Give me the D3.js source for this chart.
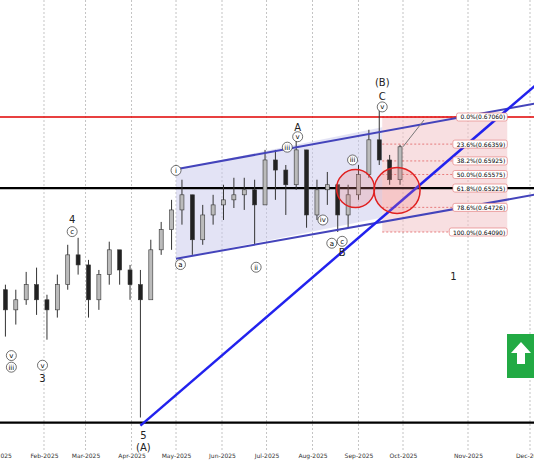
<!DOCTYPE html>
<html><head><meta charset="utf-8">
<script src="https://cdn.jsdelivr.net/npm/d3@7"></script>
<style>body{margin:0;background:#fff}text{font-family:"DejaVu Sans",sans-serif}</style>
</head><body>
<svg id="chart" width="534" height="462"></svg>
<script>
// weekly candles: date, high, low, close (open = previous close)
const dates = ['2025-01-06','2025-01-13','2025-01-20','2025-01-27','2025-02-03','2025-02-10','2025-02-17','2025-02-24',
  '2025-03-03','2025-03-10','2025-03-17','2025-03-24','2025-03-31','2025-04-07','2025-04-14','2025-04-21','2025-04-28',
  '2025-05-05','2025-05-12','2025-05-19','2025-05-26','2025-06-02','2025-06-09','2025-06-16','2025-06-23','2025-06-30',
  '2025-07-07','2025-07-14','2025-07-21','2025-07-28','2025-08-04','2025-08-11','2025-08-18','2025-08-25','2025-09-01',
  '2025-09-08','2025-09-15','2025-09-22','2025-09-29'];
const highs = [0.6273,0.6260,0.6306,0.6317,0.6247,0.6299,0.6376,0.6394,0.6337,0.6311,0.6384,0.6324,0.6324,0.6311,0.6389,0.6435,0.6492,
  0.6544,0.6505,0.6479,0.6505,0.6531,0.6549,0.6549,0.6544,0.6621,0.6621,0.6582,0.6652,0.6621,0.6544,0.6564,0.6531,0.6531,0.6582,
  0.6673,0.6729,0.6608,0.6634];
const lows = [0.6139,0.6170,0.6221,0.6195,0.6131,0.6188,0.6260,0.6299,0.6188,0.6208,0.6273,0.6273,0.6234,0.5930,0.6260,0.6350,0.6363,
  0.6428,0.6350,0.6376,0.6428,0.6440,0.6471,0.6466,0.6376,0.6479,0.6492,0.6453,0.6518,0.6420,0.6440,0.6479,0.6409,0.6420,0.6492,
  0.6549,0.6582,0.6531,0.6531];
const closes = [0.6208,0.6234,0.6273,0.6234,0.6208,0.6273,0.6350,0.6324,0.6234,0.6299,0.6363,0.6311,0.6273,0.6234,0.6363,0.6415,0.6466,
  0.6505,0.6389,0.6453,0.6479,0.6492,0.6505,0.6518,0.6479,0.6595,0.6569,0.6531,0.6621,0.6453,0.6518,0.6531,0.6453,0.6505,0.6557,
  0.6647,0.6595,0.6544,0.6629];
const firstOpen = 0.6260;

const fibPct = ['0.0%','23.6%','38.2%','50.0%','61.8%','78.6%','100.0%'];
const fibVal = [0.67060,0.66359,0.65925,0.65575,0.65225,0.64726,0.64090];
const months = ['2025-01-01','2025-02-01','2025-03-01','2025-04-01','2025-05-01','2025-06-01','2025-07-01','2025-08-01','2025-09-01','2025-10-01','2025-11-01','2025-12-01'];
const supportLine = 0.5917;
const channelUpper = [['2025-05-01',0.6571],['2025-12-03',0.6740]];
const channelLower = [['2025-05-01',0.6340],['2025-12-03',0.6505]];
const trendLine = [['2025-04-07',0.5909],['2025-12-05',0.6794]];
const projection = [['2025-10-01',0.6629],['2025-10-11',0.6698]];
const waveLabels = [
  ['2025-09-17',0.6796,'(B)',false],['2025-09-17',0.6758,'C',false],['2025-09-17',0.6732,'v',true],
  ['2025-07-22',0.6680,'A',false],['2025-07-22',0.6655,'v',true],['2025-08-21',0.6355,'B',false],
  ['2025-08-21',0.6385,'c',true],['2025-04-09',0.5883,'5',false],['2025-04-09',0.5853,'(A)',false],
  ['2025-02-20',0.6440,'4',false],['2025-02-20',0.6410,'c',true],['2025-01-31',0.6030,'3',false],
  ['2025-01-31',0.6065,'v',true],['2025-01-10',0.6090,'v',true],['2025-01-10',0.6060,'iii',true],
  ['2025-05-01',0.6568,'i',true],['2025-05-04',0.6325,'a',true],['2025-06-24',0.6318,'ii',true],
  ['2025-07-15',0.6628,'iii',true],['2025-08-28',0.6595,'iii',true],['2025-08-14',0.6380,'a',true],
  ['2025-08-08',0.6440,'iv',true],['2025-10-25',0.6293,'1',false]
];

const svg = d3.select('#chart');
const x = d3.scaleTime()
  .domain([new Date('2025-01-01'), new Date('2025-10-01'), new Date('2025-11-01'), new Date('2025-12-01')])
  .range([-2, 403, 468, 530]);
const y = d3.scaleLinear().domain([0.5841, 0.7008]).range([452, 0]);
const d = (s) => new Date(s);

// month grid
svg.append('g').selectAll('line').data(months).join('line')
  .attr('x1', (m) => x(d(m))).attr('x2', (m) => x(d(m)))
  .attr('y1', 0).attr('y2', 452)
  .attr('stroke', '#aaa').attr('stroke-dasharray', '2,2').attr('stroke-width', 0.7);

// blue channel shading and fib box
const chStart = d('2025-05-01'), chEnd = d('2025-09-17');
const lerp = (line, t) => {
  const t0 = d(line[0][0]), t1 = d(line[1][0]);
  return line[0][1] + (line[1][1] - line[0][1]) * (t - t0) / (t1 - t0);
};
svg.append('polygon')
  .attr('points', [[chStart, lerp(channelUpper, chStart)], [chEnd, lerp(channelUpper, chEnd)],
    [chEnd, lerp(channelLower, chEnd)], [chStart, lerp(channelLower, chStart)]]
    .map((p) => [x(p[0]), y(p[1])].join(',')).join(' '))
  .attr('fill', '#c8c8ec').attr('opacity', 0.5);
svg.append('rect')
  .attr('x', x(chEnd)).attr('y', y(fibVal[0]))
  .attr('width', x(d('2025-11-20')) - x(chEnd)).attr('height', y(fibVal[6]) - y(fibVal[0]))
  .attr('fill', '#f2c4c8').attr('opacity', 0.55);
svg.append('g').selectAll('line').data(fibVal).join('line')
  .attr('x1', x(chEnd)).attr('x2', x(d('2025-11-20')))
  .attr('y1', (v) => y(v)).attr('y2', (v) => y(v))
  .attr('stroke', '#e05050').attr('stroke-dasharray', '2,2').attr('stroke-width', 0.7);

// horizontal levels
svg.append('line').attr('x1', 0).attr('x2', 534).attr('y1', y(fibVal[0])).attr('y2', y(fibVal[0]))
  .attr('stroke', '#e00000').attr('stroke-width', 1.5);
svg.append('line').attr('x1', 0).attr('x2', 534).attr('y1', y(fibVal[4])).attr('y2', y(fibVal[4]))
  .attr('stroke', '#000').attr('stroke-width', 2.2);
svg.append('line').attr('x1', 0).attr('x2', 534).attr('y1', y(supportLine)).attr('y2', y(supportLine))
  .attr('stroke', '#000').attr('stroke-width', 2.2);

// candles
const bw = 4;
const candles = svg.append('g');
dates.forEach((dt, i) => {
  const o = i === 0 ? firstOpen : closes[i - 1];
  const c = closes[i];
  const cx = x(d(dt));
  candles.append('line').attr('x1', cx).attr('x2', cx).attr('y1', y(highs[i])).attr('y2', y(lows[i]))
    .attr('stroke', '#333').attr('stroke-width', 1);
  candles.append('rect').attr('x', cx - bw / 2).attr('width', bw)
    .attr('y', y(Math.max(o, c))).attr('height', Math.max(1, Math.abs(y(o) - y(c))))
    .attr('fill', c >= o ? '#bbb' : '#222').attr('stroke', '#333').attr('stroke-width', 0.6);
});

// lines
const ln = (pts, color, w) => svg.append('line')
  .attr('x1', x(d(pts[0][0]))).attr('y1', y(pts[0][1]))
  .attr('x2', x(d(pts[1][0]))).attr('y2', y(pts[1][1]))
  .attr('stroke', color).attr('stroke-width', w);
ln(channelUpper, '#4444bb', 2);
ln(channelLower, '#4444bb', 2);
ln(trendLine, '#2222ee', 2.5);
ln(projection, '#777', 1);

// red circles
[['2025-08-30', 0.6521, 19], ['2025-09-27', 0.6516, 23]].forEach((c) => {
  svg.append('circle').attr('cx', x(d(c[0]))).attr('cy', y(c[1])).attr('r', c[2])
    .attr('fill', '#f08080').attr('fill-opacity', 0.25).attr('stroke', '#e02020').attr('stroke-width', 1.5);
});

// fib labels
const fl = svg.append('g');
fibPct.forEach((p, i) => {
  const t = `${p}(${fibVal[i].toFixed(5)})`;
  const g = fl.append('g').attr('transform', `translate(${x(d('2025-11-20'))},${y(fibVal[i])})`);
  const w = t.length * 3.6 + 4;
  g.append('rect').attr('x', -w).attr('y', -4).attr('width', w).attr('height', 8).attr('rx', 2)
    .attr('fill', '#fff').attr('stroke', '#e07070').attr('stroke-width', 0.6);
  g.append('text').attr('x', -2).attr('y', 2.5).attr('text-anchor', 'end').attr('font-size', 6).text(t);
});

// wave labels
const wl = svg.append('g');
waveLabels.forEach((l) => {
  const cx = x(d(l[0])), cy = y(l[1]);
  if (l[3]) {
    wl.append('circle').attr('cx', cx).attr('cy', cy).attr('r', 5).attr('fill', '#fff').attr('stroke', '#333').attr('stroke-width', 0.7);
    wl.append('text').attr('x', cx).attr('y', cy + 2.5).attr('text-anchor', 'middle').attr('font-size', 7).text(l[2]);
  } else {
    wl.append('text').attr('x', cx).attr('y', cy + 3.5).attr('text-anchor', 'middle').attr('font-size', 10).attr('fill', '#222').text(l[2]);
  }
});

// green arrow box
const ab = svg.append('g').attr('transform', 'translate(507,334)');
ab.append('rect').attr('width', 30).attr('height', 44).attr('fill', '#22aa44');
ab.append('path').attr('d', 'M14,8 L24,19 L18,19 L18,30 L10,30 L10,19 L4,19 Z').attr('fill', '#fff');

// axis
const axis = d3.axisBottom(x).tickValues(months.map(d)).tickFormat(d3.timeFormat('%b-%Y')).tickSize(0);
const ag = svg.append('g').attr('transform', 'translate(0,453)').call(axis);
ag.select('.domain').remove();
ag.selectAll('text').attr('font-size', 6).attr('dy', '0.4em').attr('fill', '#333');
</script>
</body></html>
